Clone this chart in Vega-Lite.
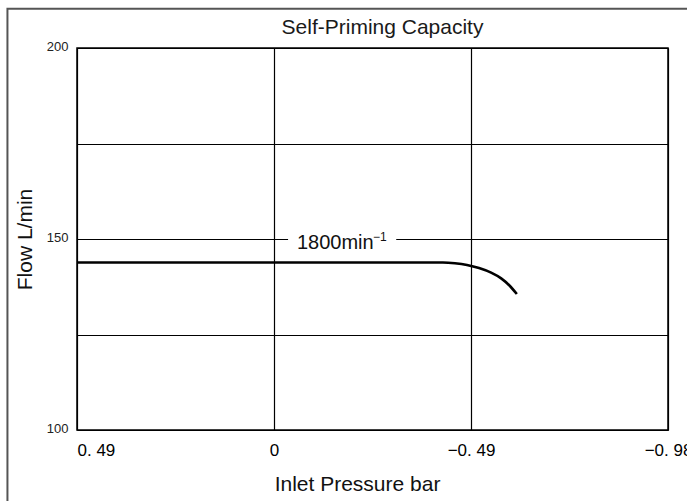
{
  "$schema": "https://vega.github.io/schema/vega-lite/v6.json",
  "width": 591,
  "height": 382,
  "autosize": {"type": "none"},
  "padding": {"left": 77, "top": 48, "right": 19, "bottom": 71},
  "background": "white",
  "title": {
    "text": "Self-Priming Capacity",
    "font": "Liberation Sans",
    "fontSize": 21,
    "fontWeight": "normal",
    "color": "#1a1a1a",
    "anchor": "middle",
    "baseline": "alphabetic",
    "offset": 0,
    "dy": 47,
    "dx": 10
  },
  "config": {
    "view": {"stroke": "black", "strokeWidth": 1.5}
  },
  "layer": [
    {
      "data": {"values": [{"x0": 0.663, "x1": -1.06, "y0": 210.3, "y1": 76.4}]},
      "mark": {"type": "rect", "filled": false, "stroke": "#555555", "strokeWidth": 2, "clip": false},
      "encoding": {
        "x": {"field": "x0", "type": "quantitative", "scale": {"domain": [0.49, -0.98], "nice": false, "zero": false}},
        "x2": {"field": "x1"},
        "y": {"field": "y0", "type": "quantitative", "scale": {"domain": [100, 200], "nice": false, "zero": false}},
        "y2": {"field": "y1"}
      }
    },
    {
      "data": {"values": [{"x0": -0.035, "x1": -0.304, "y0": 149, "y1": 151}]},
      "mark": {"type": "rect", "fill": "white"},
      "encoding": {
        "x": {"field": "x0", "type": "quantitative", "scale": {"domain": [0.49, -0.98], "nice": false, "zero": false}},
        "x2": {"field": "x1"},
        "y": {"field": "y0", "type": "quantitative", "scale": {"domain": [100, 200], "nice": false, "zero": false}},
        "y2": {"field": "y1"}
      }
    },
    {
      "data": {"values": [
        {"pressure": 0.49, "flow": 143.85},
        {"pressure": -0.42, "flow": 143.85},
        {"pressure": -0.45, "flow": 143.65},
        {"pressure": -0.48, "flow": 143.2},
        {"pressure": -0.51, "flow": 142.4},
        {"pressure": -0.54, "flow": 141.2},
        {"pressure": -0.565, "flow": 139.7},
        {"pressure": -0.585, "flow": 137.9},
        {"pressure": -0.604, "flow": 135.6}
      ]},
      "mark": {"type": "line", "color": "black", "strokeWidth": 2.6, "interpolate": "monotone"},
      "encoding": {
        "x": {
          "field": "pressure", "type": "quantitative",
          "scale": {"domain": [0.49, -0.98], "nice": false, "zero": false},
          "axis": {
            "values": [0.49, 0, -0.49, -0.98],
            "title": "Inlet Pressure bar",
            "grid": true, "gridColor": "black", "gridWidth": 1.2, "gridOpacity": 1,
            "domain": false, "ticks": false, "tickSize": 0,
            "labelExpr": "datum.value == 0 ? '0' : (datum.value > 0 ? '0. 49' : (datum.value > -0.7 ? '\u22120. 49' : '\u22120. 98'))",
            "labelFont": "Liberation Sans",
            "labelFontSize": 17,
            "labelColor": "#000000",
            "labelBaseline": "alphabetic",
            "labelPadding": 25,
            "labelAlign": {"condition": {"test": "datum.value > 0.1", "value": "left"}, "value": "center"},
            "labelFlush": false,
            "labelOverlap": false,
            "titleFont": "Liberation Sans",
            "titleFontSize": 21,
            "titleFontWeight": "normal",
            "titleColor": "#111111",
            "titleX": 280,
            "titleY": 60,
            "titleAlign": "center",
            "titleBaseline": "alphabetic"
          }
        },
        "y": {
          "field": "flow", "type": "quantitative",
          "scale": {"domain": [100, 200], "nice": false, "zero": false},
          "axis": {
            "values": [100, 125, 150, 175, 200],
            "labelExpr": "datum.value % 50 == 0 ? datum.label : ''",
            "title": "Flow L/min",
            "grid": true, "gridColor": "black", "gridWidth": 1.2, "gridOpacity": 1,
            "domain": false, "ticks": false, "tickSize": 0,
            "labelFont": "Liberation Sans",
            "labelFontSize": 13,
            "labelColor": "#222222",
            "labelPadding": 9,
            "labelBaseline": "middle",
            "labelOffset": -2,
            "labelFlush": false,
            "labelOverlap": false,
            "titleFont": "Liberation Sans",
            "titleFontSize": 21,
            "titleFontWeight": "normal",
            "titleColor": "#111111",
            "titleAngle": -90,
            "titleX": -52,
            "titleY": 191,
            "titleAlign": "center",
            "titleBaseline": "middle"
          }
        }
      }
    },
    {
      "data": {"values": [{"pressure": -0.057, "flow": 147.4, "label": "1800min"}]},
      "mark": {"type": "text", "align": "left", "baseline": "alphabetic", "font": "Liberation Sans", "fontSize": 20, "color": "#111111"},
      "encoding": {
        "x": {"field": "pressure", "type": "quantitative", "scale": {"domain": [0.49, -0.98], "nice": false, "zero": false}},
        "y": {"field": "flow", "type": "quantitative", "scale": {"domain": [100, 200], "nice": false, "zero": false}},
        "text": {"field": "label"}
      }
    },
    {
      "data": {"values": [{"pressure": -0.246, "flow": 149.6, "label": "\u22121"}]},
      "mark": {"type": "text", "align": "left", "baseline": "alphabetic", "font": "Liberation Sans", "fontSize": 12, "color": "#111111"},
      "encoding": {
        "x": {"field": "pressure", "type": "quantitative", "scale": {"domain": [0.49, -0.98], "nice": false, "zero": false}},
        "y": {"field": "flow", "type": "quantitative", "scale": {"domain": [100, 200], "nice": false, "zero": false}},
        "text": {"field": "label"}
      }
    }
  ]
}
